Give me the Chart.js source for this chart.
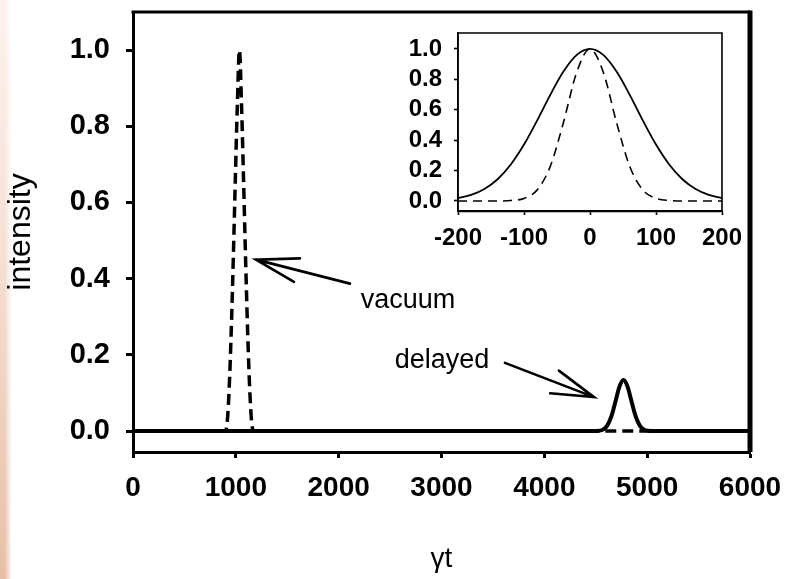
<!DOCTYPE html>
<html><head><meta charset="utf-8">
<script src="https://cdn.jsdelivr.net/npm/chart.js@4/dist/chart.umd.min.js"></script>
<style>
html,body{margin:0;padding:0;background:#fff;}
#wrap{position:relative;width:792px;height:579px;overflow:hidden;background:#fff;}
#edge{position:absolute;left:0;top:0;width:12px;height:579px;background:linear-gradient(to bottom,#fdf3ee,#f4dccf 50%,#e7bfa7);-webkit-mask-image:linear-gradient(to right,#000 40%,transparent);mask-image:linear-gradient(to right,#000 40%,transparent);}
canvas{position:absolute;}
</style></head>
<body><div id="wrap"><div id="edge"></div>
<canvas id="main" width="792" height="579" style="left:0;top:0"></canvas>
<canvas id="inset" width="365" height="245" style="left:380px;top:20px"></canvas>
</div>
<script>
// ---- data ----
const mainXTicks = [0, 1000, 2000, 3000, 4000, 5000, 6000];
const mainYTicks = [0, 0.2, 0.4, 0.6, 0.8, 1.0];
const vacuumX = [0, 875, 895, 915, 935, 955, 975, 995, 1015, 1035, 1055, 1075, 1095, 1115, 1135, 1155, 1175, 6000];
const vacuumY = [0, 0, 0, 0.02, 0.11, 0.26, 0.45, 0.66, 0.86, 1.0, 0.86, 0.66, 0.45, 0.26, 0.11, 0.02, 0, 0];
const delayedX = [0, 4490, 4530, 4570, 4610, 4650, 4690, 4730, 4770, 4810, 4850, 4890, 4930, 4970, 5010, 5050, 6000];
const delayedY = [0, 0, 0.0008, 0.0038, 0.0138, 0.0372, 0.0757, 0.116, 0.134, 0.116, 0.0757, 0.0372, 0.0138, 0.0038, 0.0008, 0, 0];

const insetXTicks = [-200, -100, 0, 100, 200];
const insetYTicks = [0, 0.2, 0.4, 0.6, 0.8, 1.0];
const insetX = [-200, -180, -160, -140, -120, -100, -80, -60, -40, -20, 0, 20, 40, 60, 80, 100, 120, 140, 160, 180, 200];
const insetSolid = [0.019, 0.040, 0.079, 0.143, 0.240, 0.371, 0.530, 0.700, 0.853, 0.961, 1.0, 0.961, 0.853, 0.700, 0.530, 0.371, 0.240, 0.143, 0.079, 0.040, 0.019];
const insetDashed = [0, 0, 0, 0, 0.003, 0.017, 0.073, 0.230, 0.520, 0.849, 1.0, 0.849, 0.520, 0.230, 0.073, 0.017, 0.003, 0, 0, 0, 0];

const annotationTexts = ["vacuum", "delayed"];
const annotationTextPos = [[2674, 0.342], [3005, 0.184]];
const arrowTails = [[2110, 0.387], [3617, 0.179]];
const arrowTips = [[1196, 0.450], [4483, 0.089]];

// ---- helpers ----
const FONT = "'Liberation Sans', Arial, Helvetica, sans-serif";
const pts = (xs, ys) => xs.map((x, i) => ({x, y: ys[i]}));
const noPad = s => { s.paddingTop = 0; s.paddingBottom = 0; s.paddingLeft = 0; s.paddingRight = 0; };

const mainFrame = {
  id: 'mainFrame',
  afterDraw(chart) {
    const {ctx, chartArea: a, scales} = chart;
    ctx.save();
    ctx.strokeStyle = '#000';
    ctx.lineCap = 'butt';
    ctx.lineWidth = 3;
    ctx.beginPath(); ctx.moveTo(a.left - 1.5, a.top); ctx.lineTo(a.right, a.top); ctx.stroke();
    ctx.lineWidth = 5;
    ctx.beginPath(); ctx.moveTo(a.right, a.top - 1.5); ctx.lineTo(a.right, a.bottom); ctx.stroke();
    // annotations
    ctx.fillStyle = '#000';
    ctx.font = '27px ' + FONT;
    ctx.textAlign = 'center'; ctx.textBaseline = 'middle';
    annotationTexts.forEach((t, i) => {
      ctx.fillText(t, scales.x.getPixelForValue(annotationTextPos[i][0]), scales.y.getPixelForValue(annotationTextPos[i][1]));
      const x0 = scales.x.getPixelForValue(arrowTails[i][0]), y0 = scales.y.getPixelForValue(arrowTails[i][1]);
      const x1 = scales.x.getPixelForValue(arrowTips[i][0]), y1 = scales.y.getPixelForValue(arrowTips[i][1]);
      const ang = Math.atan2(y0 - y1, x0 - x1), L = 44, h = 16 * Math.PI / 180;
      ctx.lineWidth = 2.6; ctx.lineCap = 'round';
      ctx.beginPath();
      ctx.moveTo(x0, y0); ctx.lineTo(x1, y1);
      ctx.moveTo(x1 + L * Math.cos(ang - h), y1 + L * Math.sin(ang - h)); ctx.lineTo(x1, y1);
      ctx.lineTo(x1 + L * Math.cos(ang + h), y1 + L * Math.sin(ang + h));
      ctx.stroke();
    });
    ctx.restore();
  }
};

new Chart(document.getElementById('main'), {
  type: 'line',
  data: {
    datasets: [
      {label: 'delayed', data: pts(delayedX, delayedY), borderColor: '#000', borderWidth: 4, pointRadius: 0, cubicInterpolationMode: 'monotone', fill: false},
      {label: 'vacuum', data: pts(vacuumX, vacuumY), borderColor: '#000', borderWidth: 3.5, borderDash: [11, 6], pointRadius: 0, cubicInterpolationMode: 'monotone', fill: false}
    ]
  },
  options: {
    responsive: false, animation: false, devicePixelRatio: 1,
    layout: {padding: {top: 12, right: 42, left: 0, bottom: 0}},
    plugins: {legend: {display: false}, tooltip: {enabled: false}},
    scales: {
      x: {
        type: 'linear', min: 0, max: 6000,
        afterBuildTicks: s => { s.ticks = mainXTicks.map(v => ({value: v})); },
        afterFit: s => { s.height = 127; noPad(s); },
        grid: {drawOnChartArea: false, drawTicks: true, tickLength: 6, tickWidth: 3, tickColor: '#000'},
        border: {display: true, color: '#000', width: 3},
        ticks: {color: '#000', font: {family: FONT, size: 28, weight: 'bold'}, padding: 13, maxRotation: 0, autoSkip: false, callback: v => String(v)},
        title: {display: true, text: 'γt', color: '#000', font: {family: FONT, size: 28}, padding: {top: 0, bottom: 3}}
      },
      y: {
        type: 'linear', min: -0.055, max: 1.10,
        afterBuildTicks: s => { s.ticks = mainYTicks.map(v => ({value: v})); },
        afterFit: s => { s.width = 133; noPad(s); },
        grid: {drawOnChartArea: false, drawTicks: true, tickLength: 7, tickWidth: 3, tickColor: '#000'},
        border: {display: true, color: '#000', width: 3},
        ticks: {color: '#000', font: {family: FONT, size: 29, weight: 'bold'}, padding: 16, autoSkip: false, callback: v => v.toFixed(1)},
        title: {display: true, text: 'intensity', color: '#000', font: {family: FONT, size: 32}, padding: {top: 2, bottom: 0}}
      }
    }
  },
  plugins: [mainFrame]
});

const insetFrame = {
  id: 'insetFrame',
  afterDraw(chart) {
    const {ctx, chartArea: a} = chart;
    ctx.save();
    ctx.strokeStyle = '#000';
    ctx.lineWidth = 1.6;
    ctx.beginPath();
    ctx.moveTo(a.left, a.bottom); ctx.lineTo(a.left, a.top); ctx.lineTo(a.right, a.top); ctx.lineTo(a.right, a.bottom);
    ctx.stroke();
    ctx.restore();
  }
};

new Chart(document.getElementById('inset'), {
  type: 'line',
  data: {
    datasets: [
      {label: 'delayed', data: pts(insetX, insetSolid), borderColor: '#000', borderWidth: 1.8, pointRadius: 0, cubicInterpolationMode: 'monotone', fill: false},
      {label: 'vacuum', data: pts(insetX, insetDashed), borderColor: '#000', borderWidth: 1.6, borderDash: [9, 6], pointRadius: 0, cubicInterpolationMode: 'monotone', fill: false}
    ]
  },
  options: {
    responsive: false, animation: false, devicePixelRatio: 1,
    layout: {padding: {top: 13, right: 23, left: 0, bottom: 0}},
    plugins: {legend: {display: false}, tooltip: {enabled: false}},
    scales: {
      x: {
        type: 'linear', min: -200, max: 200,
        afterBuildTicks: s => { s.ticks = insetXTicks.map(v => ({value: v})); },
        afterFit: s => { s.height = 54; noPad(s); },
        grid: {drawOnChartArea: false, drawTicks: true, tickLength: 4, tickWidth: 1.6, tickColor: '#000'},
        border: {display: true, color: '#000', width: 2.2},
        ticks: {color: '#000', font: {family: FONT, size: 24, weight: 'bold'}, padding: 9, maxRotation: 0, autoSkip: false, callback: v => String(v)}
      },
      y: {
        type: 'linear', min: -0.066, max: 1.105,
        afterBuildTicks: s => { s.ticks = insetYTicks.map(v => ({value: v})); },
        afterFit: s => { s.width = 78; noPad(s); },
        grid: {drawOnChartArea: false, drawTicks: true, tickLength: 4, tickWidth: 1.6, tickColor: '#000'},
        border: {display: true, color: '#000', width: 1.6},
        ticks: {color: '#000', font: {family: FONT, size: 24, weight: 'bold'}, padding: 12, autoSkip: false, callback: v => v.toFixed(1)}
      }
    }
  },
  plugins: [insetFrame]
});
</script>
</body></html>
